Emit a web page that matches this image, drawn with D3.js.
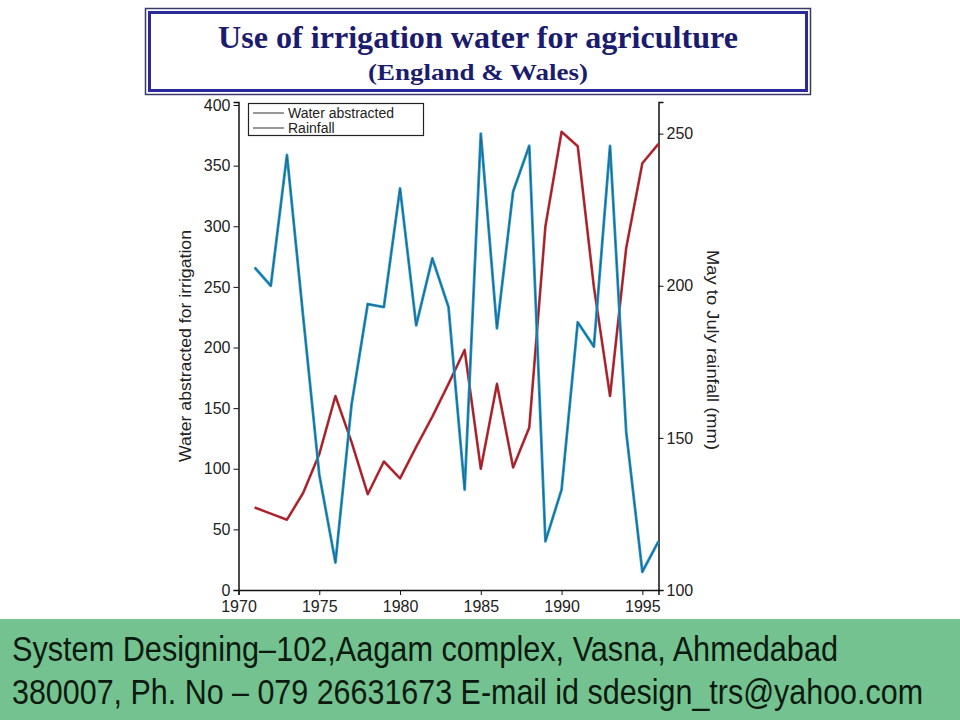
<!DOCTYPE html>
<html>
<head>
<meta charset="utf-8">
<script src="https://cdn.jsdelivr.net/npm/d3@7"></script>
<style>
  body { margin: 0; background: #fff; }
  svg { display: block; }
</style>
</head>
<body>
<svg width="960" height="720"></svg>
<script>
// data
var years = [1971, 1972, 1973, 1974, 1975, 1976, 1977, 1978, 1979, 1980, 1981, 1982, 1983,
             1984, 1985, 1986, 1987, 1988, 1989, 1990, 1991, 1992, 1993, 1994, 1995, 1996];
var waterAbstracted = [68, 63, 58, 80, 112, 160, 122, 79, 106, 92, 118, 143, 170,
                       198, 100, 170, 101, 134, 300, 378, 366, 250, 160, 282, 352, 368];
var rainfall = [206, 200, 243, 190, 138, 109, 161, 194, 193, 232, 187, 209, 193,
                133, 250, 186, 231, 246, 116, 133, 188, 180, 246, 152, 106, 116];
var xTicks = [1970, 1975, 1980, 1985, 1990, 1995];
var leftTicks = [0, 50, 100, 150, 200, 250, 300, 350, 400];
var rightTicks = [100, 150, 200, 250];
var legendNames = ['Water abstracted', 'Rainfall'];
var footerLines = ['System Designing\u2013102,Aagam complex, Vasna, Ahmedabad',
                   '380007, Ph. No \u2013 079 26631673 E-mail id sdesign_trs@yahoo.com'];

var svg = d3.select('svg');

// title box
svg.append('rect')
    .attr('x', 145.5).attr('y', 8.5)
    .attr('width', 665).attr('height', 86)
    .attr('fill', '#fff')
    .attr('stroke', '#3a3a6a').attr('stroke-width', 1.5);
svg.append('rect')
    .attr('x', 149.5).attr('y', 12.5)
    .attr('width', 657).attr('height', 78)
    .attr('fill', 'none')
    .attr('stroke', '#2a2a9a').attr('stroke-width', 3);

svg.append('text')
    .attr('x', 218).attr('y', 48)
    .attr('font-family', 'Liberation Serif, serif')
    .attr('font-weight', 'bold')
    .attr('font-size', 32)
    .attr('textLength', 520)
    .attr('lengthAdjust', 'spacingAndGlyphs')
    .attr('fill', '#1c1c6e')
    .text('Use of irrigation water for agriculture');
svg.append('text')
    .attr('x', 368).attr('y', 80)
    .attr('font-family', 'Liberation Serif, serif')
    .attr('font-weight', 'bold')
    .attr('font-size', 23)
    .attr('textLength', 220)
    .attr('lengthAdjust', 'spacingAndGlyphs')
    .attr('fill', '#1c1c6e')
    .text('(England & Wales)');

// scales
var x = d3.scaleLinear().domain([1970, 1996]).range([238.5, 658.5]);
var yLeft = d3.scaleLinear().domain([0, 402.5]).range([590, 102]);
var yRight = d3.scaleLinear().domain([100, 260.4]).range([590, 102]);

var axisFont = 'Liberation Sans, Arial, sans-serif';

var gx = svg.append('g')
    .attr('transform', 'translate(0,590)')
    .call(d3.axisBottom(x).tickValues(xTicks).tickFormat(d3.format('d')).tickSize(5).tickPadding(6));
var gl = svg.append('g')
    .attr('transform', 'translate(238.5,0)')
    .call(d3.axisLeft(yLeft).tickValues(leftTicks).tickSize(5).tickPadding(3));
var gr = svg.append('g')
    .attr('transform', 'translate(658.5,0)')
    .call(d3.axisRight(yRight).tickValues(rightTicks).tickSize(5).tickPadding(3));

[gx, gl, gr].forEach(function(g){
    g.select('.domain').attr('stroke', '#111').attr('stroke-width', 1.5);
    g.selectAll('.tick line').attr('stroke', '#111');
    g.selectAll('text')
        .attr('font-family', axisFont)
        .attr('font-size', 16)
        .attr('fill', '#222');
});

// axis titles
svg.append('text')
    .attr('transform', 'translate(191,346) rotate(-90)')
    .attr('text-anchor', 'middle')
    .attr('font-family', axisFont)
    .attr('font-size', 17)
    .attr('textLength', 232)
    .attr('lengthAdjust', 'spacingAndGlyphs')
    .attr('fill', '#222')
    .text('Water abstracted for irrigation');
svg.append('text')
    .attr('transform', 'translate(707,350) rotate(90)')
    .attr('text-anchor', 'middle')
    .attr('font-family', axisFont)
    .attr('font-size', 17)
    .attr('textLength', 200)
    .attr('lengthAdjust', 'spacingAndGlyphs')
    .attr('fill', '#222')
    .text('May to July rainfall (mm)');

// lines
var lineLeft = d3.line()
    .x(function(d, i){ return x(years[i]); })
    .y(function(d){ return yLeft(d); });
var lineRight = d3.line()
    .x(function(d, i){ return x(years[i]); })
    .y(function(d){ return yRight(d); });

svg.append('path')
    .datum(waterAbstracted)
    .attr('d', lineLeft)
    .attr('fill', 'none')
    .attr('stroke', '#c22a30')
    .attr('stroke-width', 2.6)
    .attr('stroke-linejoin', 'round');
svg.append('path')
    .datum(waterAbstracted)
    .attr('d', lineLeft)
    .attr('fill', 'none')
    .attr('stroke', '#4a2030')
    .attr('stroke-opacity', 0.45)
    .attr('stroke-width', 1);

svg.append('path')
    .datum(rainfall)
    .attr('d', lineRight)
    .attr('fill', 'none')
    .attr('stroke', '#1e9ad6')
    .attr('stroke-width', 2.8)
    .attr('stroke-linejoin', 'round');
svg.append('path')
    .datum(rainfall)
    .attr('d', lineRight)
    .attr('fill', 'none')
    .attr('stroke', '#2a4552')
    .attr('stroke-opacity', 0.6)
    .attr('stroke-width', 1.1);

// legend
svg.append('rect')
    .attr('x', 248.5).attr('y', 103.5)
    .attr('width', 175).attr('height', 32)
    .attr('fill', '#fff')
    .attr('stroke', '#222').attr('stroke-width', 1.2);

var leg = svg.selectAll('g.leg')
    .data(legendNames)
    .enter()
    .append('g')
    .attr('class', 'leg')
    .attr('transform', function(d, i){ return 'translate(0,' + (113 + i * 15) + ')'; });
leg.append('line')
    .attr('x1', 253).attr('x2', 284)
    .attr('stroke', '#555').attr('stroke-width', 1.2);
leg.append('text')
    .attr('x', 288).attr('y', 5)
    .attr('font-family', axisFont)
    .attr('font-size', 14)
    .attr('fill', '#222')
    .text(function(d){ return d; });

// footer band
svg.append('rect')
    .attr('x', 0).attr('y', 619)
    .attr('width', 960).attr('height', 101)
    .attr('fill', '#74c28f');

var footerWidths = [826, 911];
svg.selectAll('text.footer')
    .data(footerLines)
    .enter()
    .append('text')
    .attr('class', 'footer')
    .attr('transform', function(d, i){ return 'translate(12,' + (661 + i * 43) + ') scale(1,1.16)'; })
    .attr('font-family', axisFont)
    .attr('font-size', 30)
    .attr('textLength', function(d, i){ return footerWidths[i]; })
    .attr('lengthAdjust', 'spacingAndGlyphs')
    .attr('fill', '#0b1a0f')
    .text(function(d){ return d; });
</script>
</body>
</html>
